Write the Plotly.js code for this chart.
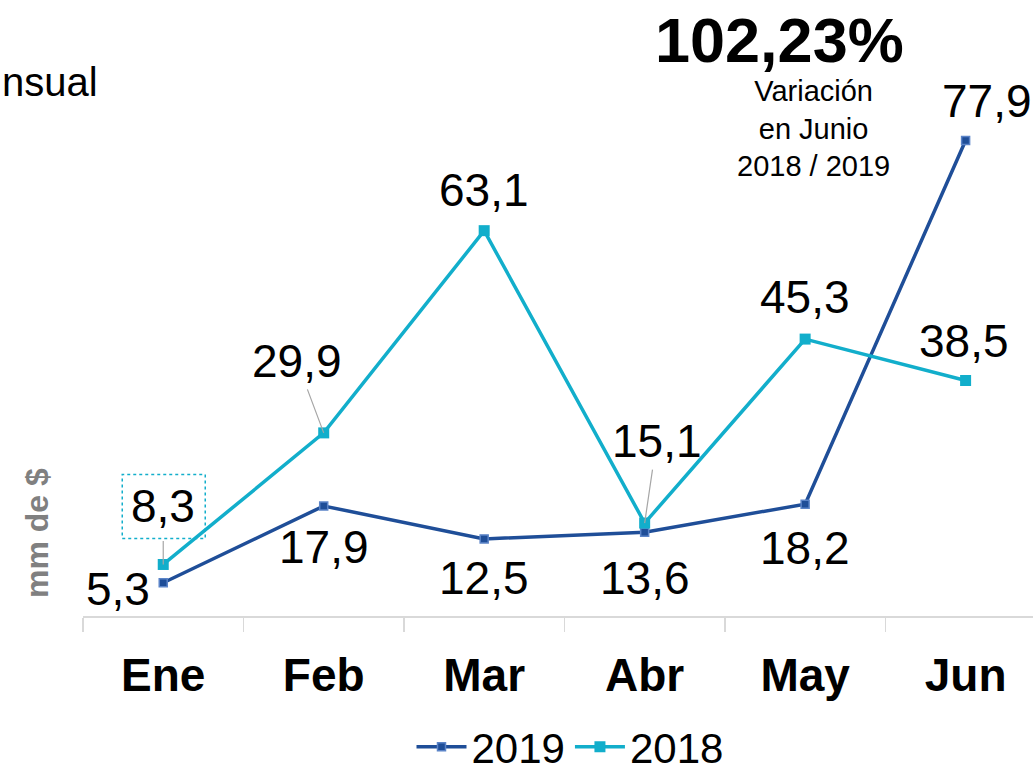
<!DOCTYPE html>
<html><head><meta charset="utf-8">
<script src="https://cdn.plot.ly/plotly-3.0.1.min.js"></script>
<style>body{margin:0;background:#fff}#chart{width:1033px;height:775px}</style>
</head><body><div id="chart"></div>
<script>
const months = ["Ene","Feb","Mar","Abr","May","Jun"];
const values2019 = [5.3, 17.9, 12.5, 13.6, 18.2, 77.9];
const values2018 = [8.3, 29.9, 63.1, 15.1, 45.3, 38.5];
const labels2019 = ["5,3","17,9","12,5","13,6","18,2","77,9"];
const labels2018 = ["8,3","29,9","63,1","15,1","45,3","38,5"];
const headline = "102,23%";
const subtitle = "Variación<br>en Junio<br>2018 / 2019";
const titleFragment = "nsual";
const yTitle = "mm de $";

const C19 = "#1F4E98", C18 = "#12AECB";
const L = 83, T = 40, W = 950, H = 576;
const px = p => (p - L) / W;
const py = p => (T + H - p) / H;
const FONT = "Liberation Sans, Arial, sans-serif";

const traces = [
  {x: months, y: values2019, name: "2019", type: "scatter", mode: "lines+markers",
   line: {color: C19, width: 3.5},
   marker: {symbol: "square", size: 8, color: C19, line: {color: "#5B84C8", width: 1.5}}},
  {x: months, y: values2018, name: "2018", type: "scatter", mode: "lines+markers",
   line: {color: C18, width: 3.5},
   marker: {symbol: "square", size: 11, color: C18}}
];

// label offsets (pixels) for each point label
const off2019 = [[-45,-6],[0,-41],[0,-39],[0,-46],[0,-44],[21,40]];
const off2018 = [[0,58,true],[-27,72,true],[0,41],[12,82,true],[0,42],[-2,40]];
const annotations = [];
function addLabels(vals, labels, offs) {
  vals.forEach((v, i) => {
    const o = offs[i];
    const base = {x: months[i], y: v, xref: "x", yref: "y", text: labels[i],
      xanchor: "center", yanchor: "middle",
      font: {family: FONT, size: 46, color: "#000"}};
    if (o[2]) {
      annotations.push(Object.assign(base, {showarrow: true, arrowhead: 0, arrowwidth: 1.2,
        arrowcolor: "#A6A6A6", ax: o[0], ay: -o[1], borderpad: i === 0 ? 8 : 2}));
    } else {
      annotations.push(Object.assign(base, {showarrow: false, xshift: o[0], yshift: o[1]}));
    }
  });
}
addLabels(values2019, labels2019, off2019);
addLabels(values2018, labels2018, off2018);

annotations.push({xref: "paper", yref: "paper", x: px(779), y: py(40), xanchor: "center", yanchor: "middle",
  text: headline, showarrow: false, font: {family: FONT, size: 63, color: "#000", weight: "bold"}});
annotations.push({xref: "paper", yref: "paper", x: px(813), y: py(128), xanchor: "center", yanchor: "middle",
  text: subtitle, showarrow: false, font: {family: FONT, size: 29, color: "#000"}});
annotations.push({xref: "paper", yref: "paper", x: px(0), y: py(82), xanchor: "left", yanchor: "middle",
  text: titleFragment, showarrow: false, font: {family: FONT, size: 40, color: "#000"}});
annotations.push({xref: "paper", yref: "paper", x: px(37), y: py(533), xanchor: "center", yanchor: "middle",
  text: yTitle, textangle: -90, showarrow: false,
  font: {family: FONT, size: 32, color: "#808080", weight: "bold"}});

const shapes = [{type: "rect", xref: "x", yref: "y", xsizemode: "pixel", ysizemode: "pixel",
  xanchor: months[0], yanchor: values2018[0], x0: -41, x1: 42, y0: 26, y1: 90,
  line: {color: C18, width: 1.5, dash: "dot"}}];

const layout = {
  width: 1033, height: 775,
  margin: {l: L, r: 0, t: T, b: 775 - T - H, autoexpand: false},
  paper_bgcolor: "#fff", plot_bgcolor: "#fff",
  showlegend: true,
  legend: {orientation: "h", x: px(570), xanchor: "center", y: py(747), yanchor: "middle",
    font: {family: FONT, size: 42, color: "#000"}, itemwidth: 50, tracegroupgap: 0},
  xaxis: {type: "category", range: [-0.5, 5.42], showline: true, linecolor: "#D9D9D9", linewidth: 1.5,
    ticks: "outside", ticklen: 14, tickcolor: "#D9D9D9", tickwidth: 1.5, tickson: "boundaries",
    showgrid: false, zeroline: false, ticklabelstandoff: 18,
    tickfont: {family: FONT, size: 46, color: "#000", weight: "bold"}, fixedrange: true},
  yaxis: {range: [-0.16, 94.4], visible: false, showgrid: false, zeroline: false, fixedrange: true},
  annotations: annotations,
  shapes: shapes
};
Plotly.newPlot("chart", traces, layout, {staticPlot: true, displayModeBar: false});
</script></body></html>
